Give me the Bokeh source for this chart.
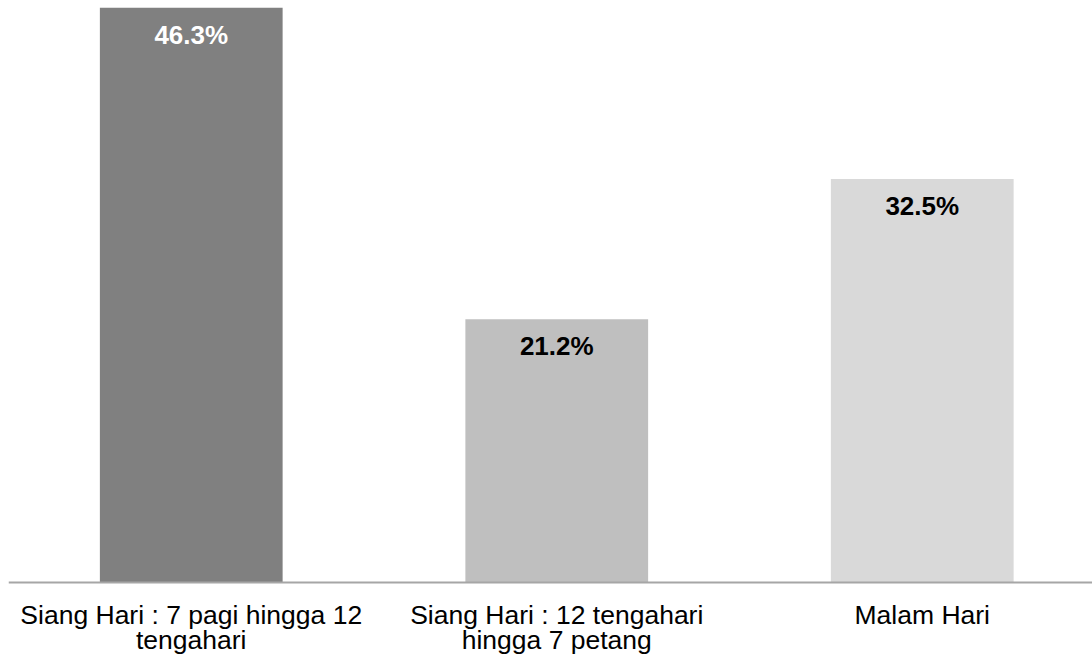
from bokeh.plotting import figure
from bokeh.models import ColumnDataSource, Range1d, Span
from bokeh.core.properties import value
from bokeh.embed import file_html
from bokeh.resources import INLINE

categories = ["Siang Hari : 7 pagi hingga 12\ntengahari",
              "Siang Hari : 12 tengahari\nhingga 7 petang",
              "Malam Hari"]
values = [46.3, 21.2, 32.5]
bar_colors = ["#808080", "#bfbfbf", "#d9d9d9"]
label_colors = ["#ffffff", "#000000", "#000000"]

W, H = 1092, 663
LEFT, TOP, AXIS_Y = 8, 7, 582
frame_h = AXIS_Y - TOP
ymax = max(values)
ymin = -(H - AXIS_Y) * ymax / frame_h
slot = 365.5

xs = [i + 0.5 for i in range(len(categories))]
line1 = [c.split("\n")[0] for c in categories]
line2 = [c.split("\n")[1] if "\n" in c else "" for c in categories]
src = ColumnDataSource(dict(x=xs, top=values, color=bar_colors,
                            lab=[f"{v}%" for v in values], lcolor=label_colors,
                            l1=line1, l2=line2, zero=[0] * len(xs)))

p = figure(width=W, height=H, output_backend="svg", toolbar_location=None,
           x_range=Range1d(0, (W - LEFT) / slot), y_range=Range1d(ymin, ymax),
           min_border_left=LEFT, min_border_right=0, min_border_top=TOP, min_border_bottom=0)
p.outline_line_color = None
p.grid.visible = False
p.axis.visible = False
p.background_fill_color = "white"
p.border_fill_color = "white"

p.vbar(x="x", top="top", width=0.5, bottom=0, color="color", line_color=None, source=src)
p.add_layout(Span(location=0, dimension="width", line_color="#a6a6a6", line_width=2))

p.text(x="x", y="top", text="lab", text_color="lcolor", source=src,
       text_align="center", text_baseline="alphabetic", y_offset=27,
       text_font=value("Liberation Sans"), text_font_size="26px", text_font_style="bold")

p.text(x="x", y="zero", text="l1", text_color="#000000", source=src,
       text_align="center", text_baseline="alphabetic", y_offset=32,
       text_font=value("Liberation Sans"), text_font_size="26.5px")
p.text(x="x", y="zero", text="l2", text_color="#000000", source=src,
       text_align="center", text_baseline="alphabetic", y_offset=57,
       text_font=value("Liberation Sans"), text_font_size="26.5px")

open("out.html", "w").write(file_html(p, INLINE))
